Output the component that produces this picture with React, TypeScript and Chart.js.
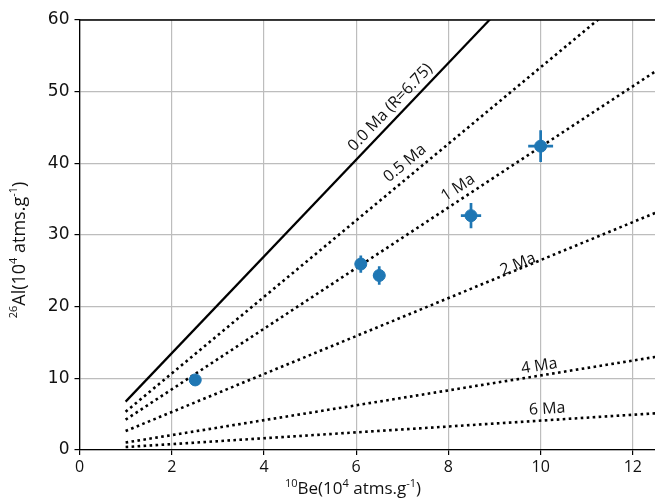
import React, { useEffect, useRef } from "react";
import { Chart, registerables } from "chart.js";

Chart.register(...registerables);

// Burial isochron lines: 26Al/10Be ratio for each burial age
const burialLabels = ["0.0 Ma (R=6.75)", "0.5 Ma", "1 Ma", "2 Ma", "4 Ma", "6 Ma"];
const burialRatios = [6.75, 5.34, 4.23, 2.65, 1.04, 0.41];
const lineBeStart = 1;
const lineBeEnd = 12.5;
// label anchor positions (data units, text centre)
const labelBe = [6.74, 7.06, 8.21, 9.51, 9.97, 10.14];
const labelAl = [47.8, 40.0, 36.6, 25.9, 11.7, 5.7];

// Samples
const sampleBe = [2.51, 6.1, 6.5, 8.49, 10.0];
const sampleAl = [9.78, 25.95, 24.35, 32.7, 42.4];
const sampleBeErr = [0.04, 0.11, 0.13, 0.22, 0.27];
const sampleAlErr = [0.3, 1.2, 1.3, 1.75, 2.2];

const xTickValues = [0, 2, 4, 6, 8, 10, 12];
const yTickValues = [0, 10, 20, 30, 40, 50, 60];

const BLUE = "#1f77b4";
const TITLE_FONT = "'Open Sans', 'Liberation Sans', sans-serif";

type Piece = { t: string; sup?: boolean };
const xTitle: Piece[] = [
  { t: "10", sup: true },
  { t: "Be(10" },
  { t: "4", sup: true },
  { t: " atms.g" },
  { t: "-1", sup: true },
  { t: ")" },
];
const yTitle: Piece[] = [
  { t: "26", sup: true },
  { t: "Al(10" },
  { t: "4", sup: true },
  { t: " atms.g" },
  { t: "-1", sup: true },
  { t: ")" },
];

function drawRich(ctx: CanvasRenderingContext2D, pieces: Piece[], size: number) {
  const big = `${size}px ${TITLE_FONT}`;
  const small = `${Math.round(size * 0.62)}px ${TITLE_FONT}`;
  let total = 0;
  const widths = pieces.map((p) => {
    ctx.font = p.sup ? small : big;
    const w = ctx.measureText(p.t).width;
    total += w;
    return w;
  });
  let x = -total / 2;
  ctx.textBaseline = "alphabetic";
  ctx.textAlign = "left";
  pieces.forEach((p, i) => {
    ctx.font = p.sup ? small : big;
    ctx.fillText(p.t, x, p.sup ? -size * 0.42 : 0);
    x += widths[i];
  });
}

const overlayPlugin = {
  id: "overlay",
  afterDatasetsDraw(chart: any) {
    const ctx: CanvasRenderingContext2D = chart.ctx;
    const xs = chart.scales.x;
    const ys = chart.scales.y;
    const area = chart.chartArea;

    // error bars
    ctx.save();
    ctx.strokeStyle = BLUE;
    ctx.lineWidth = 2.7;
    sampleBe.forEach((bx, i) => {
      const ay = sampleAl[i];
      const px = xs.getPixelForValue(bx);
      const py = ys.getPixelForValue(ay);
      ctx.beginPath();
      ctx.moveTo(xs.getPixelForValue(bx - sampleBeErr[i]), py);
      ctx.lineTo(xs.getPixelForValue(bx + sampleBeErr[i]), py);
      ctx.moveTo(px, ys.getPixelForValue(ay - sampleAlErr[i]));
      ctx.lineTo(px, ys.getPixelForValue(ay + sampleAlErr[i]));
      ctx.stroke();
    });
    ctx.restore();

    // line labels
    ctx.save();
    ctx.fillStyle = "#111";
    ctx.font = `16px ${TITLE_FONT}`;
    ctx.textAlign = "center";
    ctx.textBaseline = "middle";
    burialRatios.forEach((r, i) => {
      const dx = xs.getPixelForValue(lineBeEnd) - xs.getPixelForValue(lineBeStart);
      const dy = ys.getPixelForValue(r * lineBeEnd) - ys.getPixelForValue(r * lineBeStart);
      const ang = Math.atan2(dy, dx);
      ctx.save();
      ctx.translate(xs.getPixelForValue(labelBe[i]), ys.getPixelForValue(labelAl[i]));
      ctx.rotate(ang);
      ctx.fillText(burialLabels[i], 0, 0);
      ctx.restore();
    });
    ctx.restore();

    // top spine
    ctx.save();
    ctx.strokeStyle = "#000";
    ctx.lineWidth = 1.3;
    ctx.beginPath();
    ctx.moveTo(area.left, area.top);
    ctx.lineTo(area.right, area.top);
    ctx.stroke();
    ctx.restore();

    // axis titles
    ctx.save();
    ctx.fillStyle = "#111";
    ctx.translate(353, 494);
    drawRich(ctx, xTitle, 17);
    ctx.restore();

    ctx.save();
    ctx.fillStyle = "#111";
    ctx.translate(25, 250);
    ctx.rotate(-Math.PI / 2);
    drawRich(ctx, yTitle, 18);
    ctx.restore();
  },
};

export default function App() {
  const canvasRef = useRef<HTMLCanvasElement | null>(null);

  useEffect(() => {
    document.body.style.margin = "0";
    document.body.style.overflow = "hidden";
    const canvas = canvasRef.current;
    if (!canvas) return;

    const lineDatasets = burialRatios.map((r, i) => ({
      type: "line" as const,
      label: burialLabels[i],
      data: [
        { x: lineBeStart, y: r * lineBeStart },
        { x: lineBeEnd, y: r * lineBeEnd },
      ],
      borderColor: "#000",
      borderWidth: i === 0 ? 2.2 : 2.6,
      borderDash: i === 0 ? [] : [2.6, 3.4],
      pointRadius: 0,
      fill: false,
      order: 10 + i,
    }));

    const zeroPad = (scale: any) => {
      scale.paddingLeft = 0;
      scale.paddingRight = 0;
      scale.paddingTop = 0;
      scale.paddingBottom = 0;
    };

    const chart = new Chart(canvas, {
      type: "scatter",
      data: {
        datasets: [
          {
            type: "scatter" as const,
            label: "samples",
            data: sampleBe.map((x, i) => ({ x, y: sampleAl[i] })),
            backgroundColor: BLUE,
            borderColor: BLUE,
            pointRadius: 6,
            pointHoverRadius: 6,
            order: 0,
          },
          ...lineDatasets,
        ] as any,
      },
      options: {
        responsive: false,
        animation: false,
        layout: { autoPadding: false, padding: { left: 0, right: 0, top: 20, bottom: 0 } },
        plugins: {
          legend: { display: false },
          tooltip: { enabled: false },
        },
        scales: {
          x: {
            type: "linear",
            min: 0,
            max: 12.48,
            afterBuildTicks: (scale: any) => {
              scale.ticks = xTickValues.map((v) => ({ value: v }));
            },
            afterFit: (scale: any) => {
              scale.height = 52;
              zeroPad(scale);
            },
            grid: {
              color: "#bdbdbd",
              lineWidth: 1.2,
              drawTicks: true,
              tickLength: 5,
              tickColor: "#000",
            },
            border: { display: true, color: "#000", width: 1.3 },
            ticks: {
              color: "#111",
              padding: 3,
              font: { family: TITLE_FONT, size: 16 },
              callback: (v: any) => String(v),
            },
          },
          y: {
            type: "linear",
            min: 0,
            max: 60,
            afterBuildTicks: (scale: any) => {
              scale.ticks = yTickValues.map((v) => ({ value: v }));
            },
            afterFit: (scale: any) => {
              scale.width = 79.5;
              zeroPad(scale);
            },
            grid: {
              color: "#bdbdbd",
              lineWidth: 1.2,
              drawTicks: true,
              tickLength: 5,
              tickColor: "#000",
            },
            border: { display: true, color: "#000", width: 1.3 },
            ticks: {
              color: "#111",
              padding: 5,
              font: { family: "'DejaVu Sans', sans-serif", size: 17 },
              callback: (v: any) => String(v),
            },
          },
        },
      },
      plugins: [overlayPlugin],
    });

    return () => chart.destroy();
  }, []);

  return (
    <div style={{ position: "fixed", left: 0, top: 0, width: 655, height: 502, background: "#fff" }}>
      <canvas ref={canvasRef} width={655} height={502} style={{ width: 655, height: 502 }} />
    </div>
  );
}
